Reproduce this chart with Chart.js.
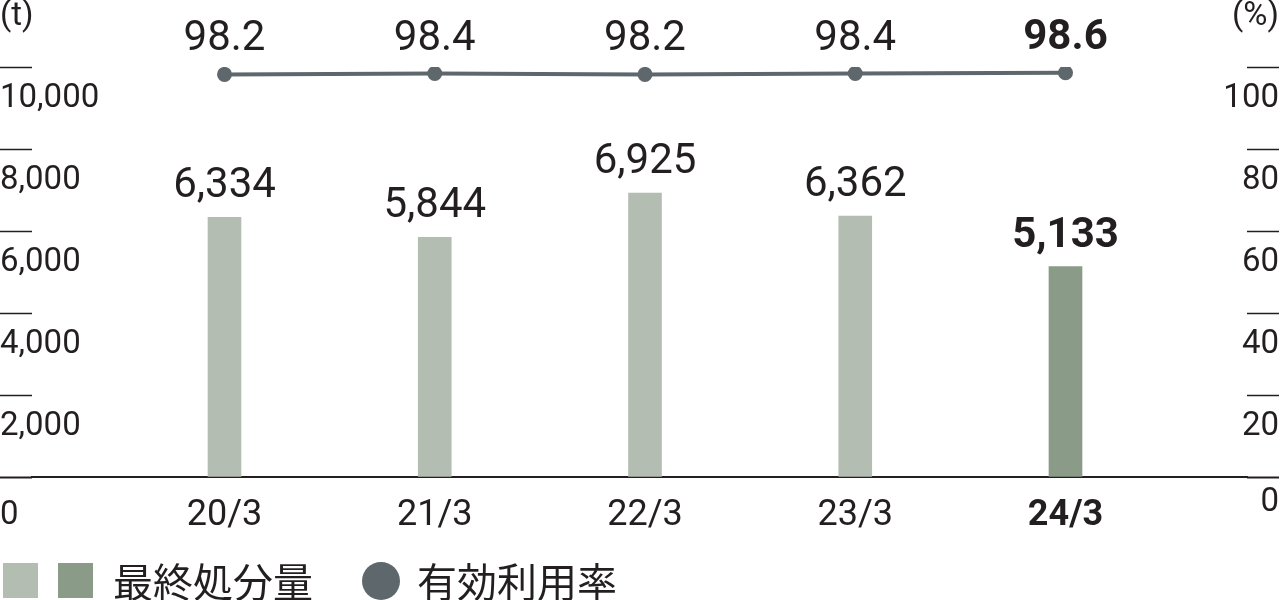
<!DOCTYPE html>
<html>
<head>
<meta charset="utf-8">
<script src="https://cdn.jsdelivr.net/npm/chart.js@4"></script>
<style>
html,body{margin:0;padding:0;background:#fff;}
#wrap{position:relative;width:1280px;height:600px;overflow:hidden;}
#c{position:absolute;left:0;top:0;}
.lg{position:absolute;}
.sq{width:35px;height:35px;top:563px;}
.dot{width:38px;height:38px;border-radius:50%;top:562px;}
.lt{top:556px;font-family:"Noto Sans CJK JP","Noto Sans CJK SC",sans-serif;font-size:40px;line-height:48px;color:#231f20;white-space:nowrap;}
</style>
</head>
<body>
<div id="wrap">
  <canvas id="c" width="1280" height="600"></canvas>
  <div id="legend"></div>
</div>
<script>
// ---- data ----
const categories = ['20/3', '21/3', '22/3', '23/3', '24/3'];
const disposalAmount = [6334, 5844, 6925, 6362, 5133];     // 最終処分量 (t)
const utilizationRate = [98.2, 98.4, 98.2, 98.4, 98.6];    // 有効利用率 (%)
const leftTickValues = [0, 2000, 4000, 6000, 8000, 10000];
const rightTickValues = [0, 20, 40, 60, 80, 100];
const seriesNames = ['最終処分量', '有効利用率'];
const leftUnit = '(t)';
const rightUnit = '(%)';

// ---- styles ----
const INK = '#231f20';
const BAR_LIGHT = '#b4bdb2';
const BAR_DARK = '#8a9b87';
const LINE_COLOR = '#5e676b';
const NUM_FONT = 'Roboto';
const lastIdx = categories.length - 1;

// ---- legend (HTML) ----
const legend = document.getElementById('legend');
legend.innerHTML =
  '<div class="lg sq" style="left:3px;background:' + BAR_LIGHT + '"></div>' +
  '<div class="lg sq" style="left:58px;background:' + BAR_DARK + '"></div>' +
  '<div class="lg lt" style="left:113px">' + seriesNames[0] + '</div>' +
  '<div class="lg dot" style="left:362px;background:' + LINE_COLOR + '"></div>' +
  '<div class="lg lt" style="left:417px">' + seriesNames[1] + '</div>';

const fmt = v => Number(v).toLocaleString('en-US');

const valueLabels = {
  id: 'valueLabels',
  afterDatasetsDraw(chart) {
    const ctx = chart.ctx;
    ctx.save();
    ctx.fillStyle = INK;
    ctx.textAlign = 'center';
    ctx.textBaseline = 'alphabetic';
    const bars = chart.getDatasetMeta(0).data;
    bars.forEach((el, i) => {
      ctx.font = (i === lastIdx ? 'bold ' : '') + '42px ' + NUM_FONT;
      ctx.fillText(fmt(disposalAmount[i]), el.x, el.y - 20);
    });
    const pts = chart.getDatasetMeta(1).data;
    pts.forEach((el, i) => {
      ctx.font = (i === lastIdx ? 'bold ' : '') + '42px ' + NUM_FONT;
      ctx.fillText(utilizationRate[i].toFixed(1), el.x, el.y - 24);
    });
    // unit labels
    ctx.font = '33px ' + NUM_FONT;
    ctx.textAlign = 'left';
    ctx.fillText(leftUnit, 0, 25);
    ctx.textAlign = 'right';
    ctx.fillText(rightUnit, 1279, 25);
    ctx.restore();
  }
};

// zero labels sit slightly differently on each side (split into two lines to nudge)
const tickFont = (zeroLH) => c => (c.tick && c.tick.value === 0)
  ? { family: NUM_FONT, size: 33, lineHeight: zeroLH }
  : { family: NUM_FONT, size: 33 };

function build() {
  new Chart(document.getElementById('c'), {
    type: 'bar',
    data: {
      datasets: [
        {
          type: 'bar',
          label: seriesNames[0],
          data: disposalAmount.map((v, i) => ({ x: i, y: v })),
          backgroundColor: categories.map((c, i) => i === lastIdx ? BAR_DARK : BAR_LIGHT),
          barThickness: 33,
          xAxisID: 'x',
          yAxisID: 'y',
          order: 2
        },
        {
          type: 'line',
          label: seriesNames[1],
          data: utilizationRate.map((v, i) => ({ x: i, y: v })),
          borderColor: LINE_COLOR,
          backgroundColor: LINE_COLOR,
          borderWidth: 4,
          pointRadius: 7.5,
          pointBackgroundColor: LINE_COLOR,
          pointBorderWidth: 0,
          xAxisID: 'x',
          yAxisID: 'y1',
          order: 1
        }
      ]
    },
    options: {
      responsive: false,
      animation: false,
      layout: { padding: { top: 67, left: 0, right: 0, bottom: 0 } },
      plugins: { legend: { display: false }, tooltip: { enabled: false } },
      scales: {
        x: {
          type: 'linear',
          offset: false,
          min: -0.9156,
          max: 4.8633,
          bounds: 'data',
          afterBuildTicks: s => { s.ticks = categories.map((c, i) => ({ value: i })); },
          afterFit: s => { s.height = 123; },
          grid: { display: false, drawTicks: false, offset: false },
          border: { display: true, color: INK, width: 2 },
          ticks: {
            autoSkip: false,
            maxRotation: 0,
            padding: 17,
            color: INK,
            font: c => ({ family: NUM_FONT, size: 36, weight: c.index === lastIdx ? 'bold' : 'normal' }),
            callback: v => categories[v]
          }
        },
        y: {
          position: 'left',
          min: 0,
          max: 10000,
          afterBuildTicks: s => { s.ticks = leftTickValues.map(v => ({ value: v })); },
          afterFit: s => { s.width = 32; },
          border: { display: false },
          grid: {
            drawOnChartArea: false,
            drawTicks: true,
            tickLength: 32,
            tickColor: INK,
            tickWidth: c => (c.tick && c.tick.value === 0) ? 2 : 1.5
          },
          ticks: {
            mirror: true,
            padding: -32,
            labelOffset: 32,
            color: INK,
            font: tickFont('14px'),
            callback: v => v === 0 ? ['', '0'] : fmt(v)
          }
        },
        y1: {
          position: 'right',
          min: 0,
          max: 100,
          afterBuildTicks: s => { s.ticks = rightTickValues.map(v => ({ value: v })); },
          afterFit: s => { s.width = 33; },
          border: { display: false },
          grid: {
            drawOnChartArea: false,
            drawTicks: true,
            tickLength: 32,
            tickColor: INK,
            tickWidth: c => (c.tick && c.tick.value === 0) ? 2 : 1.5
          },
          ticks: {
            mirror: true,
            padding: 32,
            labelOffset: 32,
            color: INK,
            font: tickFont('12px'),
            callback: v => v === 0 ? ['0', ''] : String(v)
          }
        }
      }
    },
    plugins: [valueLabels]
  });
}

Promise.all([
  document.fonts.load('33px Roboto'),
  document.fonts.load('bold 42px Roboto'),
  document.fonts.load('40px "Noto Sans CJK JP"')
]).then(build, build);
</script>
</body>
</html>
